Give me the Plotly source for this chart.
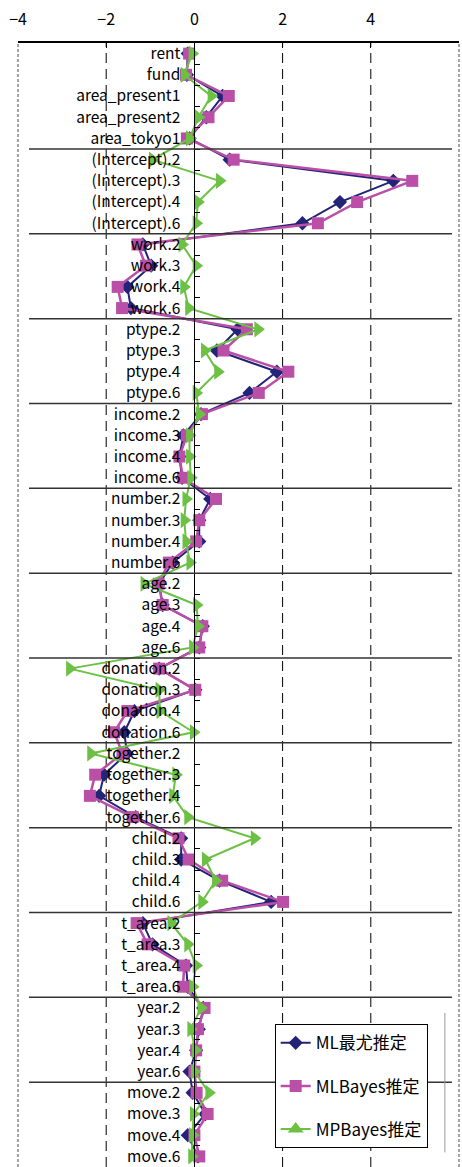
import plotly.graph_objects as go

# Coefficient names, top to bottom
categories = [
    "rent", "fund", "area_present1", "area_present2", "area_tokyo1",
    "(Intercept).2", "(Intercept).3", "(Intercept).4", "(Intercept).6",
    "work.2", "work.3", "work.4", "work.6",
    "ptype.2", "ptype.3", "ptype.4", "ptype.6",
    "income.2", "income.3", "income.4", "income.6",
    "number.2", "number.3", "number.4", "number.6",
    "age.2", "age.3", "age.4", "age.6",
    "donation.2", "donation.3", "donation.4", "donation.6",
    "together.2", "together.3", "together.4", "together.6",
    "child.2", "child.3", "child.4", "child.6",
    "t_area.2", "t_area.3", "t_area.4", "t_area.6",
    "year.2", "year.3", "year.4", "year.6",
    "move.2", "move.3", "move.4", "move.6",
]

# Number of coefficients in each block (separated by horizontal rules)
group_sizes = [5, 4, 4, 4, 4, 4, 4, 4, 4, 4, 4, 4, 4]

ml_est = [
    -0.15, -0.17, 0.64, 0.27, -0.11,
    0.80, 4.51, 3.30, 2.45,
    -1.17, -0.98, -1.52, -1.44,
    0.98, 0.51, 1.87, 1.25,
    0.15, -0.25, -0.34, -0.28,
    0.36, 0.11, 0.11, -0.49,
    -0.80, -0.72, 0.19, 0.11,
    -0.80, 0.02, -1.36, -1.59,
    -1.53, -2.05, -2.16, -1.33,
    -0.30, -0.30, 0.57, 1.74,
    -1.17, -0.95, -0.19, -0.15,
    0.20, 0.10, 0.04, -0.11,
    -0.04, 0.25, -0.15, 0.08,
]

mlbayes_est = [
    -0.12, -0.19, 0.78, 0.32, -0.17,
    0.89, 4.94, 3.69, 2.80,
    -1.29, -1.10, -1.74, -1.64,
    1.19, 0.66, 2.13, 1.46,
    0.17, -0.17, -0.34, -0.26,
    0.49, 0.11, 0.04, -0.58,
    -0.81, -0.72, 0.18, 0.11,
    -0.80, 0.02, -1.52, -1.82,
    -1.63, -2.25, -2.37, -1.40,
    -0.36, -0.13, 0.63, 2.01,
    -1.31, -1.06, -0.23, -0.26,
    0.23, 0.08, 0.04, 0.00,
    0.05, 0.30, 0.00, 0.11,
]

mpbayes_est = [
    -0.05, -0.23, 0.38, 0.09, -0.11,
    -0.95, 0.57, 0.08, 0.04,
    -0.28, 0.04, -0.24, -0.13,
    1.44, 0.23, 0.53, 0.04,
    0.11, -0.11, -0.11, -0.08,
    -0.19, -0.23, -0.19, -0.10,
    -1.14, 0.05, 0.08, -0.04,
    -2.83, -0.80, -0.78, -0.02,
    -2.35, -0.42, -0.49, -0.15,
    1.36, 0.25, 0.48, 0.17,
    -0.53, -0.15, 0.04, -0.04,
    0.15, -0.08, 0.02, 0.00,
    0.33, -0.02, -0.04, -0.06,
]

x_ticks = [-4, -2, 0, 2, 4, 6]
dashed_grid = [-2, 2, 4]

NAVY = "#232378"
MAGENTA = "#BA4FA8"
GREEN = "#6CC044"
FONT = "Noto Sans CJK JP"

fig = go.Figure()

fig.add_trace(go.Scatter(
    x=ml_est, y=categories, mode="lines+markers", name="ML最尤推定",
    line=dict(color=NAVY, width=2),
    marker=dict(symbol="diamond", size=11, color=NAVY),
    legendgroup="a",
))
fig.add_trace(go.Scatter(
    x=mlbayes_est, y=categories, mode="lines+markers", name="MLBayes推定",
    line=dict(color=MAGENTA, width=2.5),
    marker=dict(symbol="square", size=12, color=MAGENTA),
    legendgroup="b",
))
fig.add_trace(go.Scatter(
    x=mpbayes_est, y=categories, mode="lines+markers", name="MPBayes推定",
    line=dict(color=GREEN, width=2),
    marker=dict(symbol="triangle-right", size=14, color=GREEN),
    legendgroup="c", showlegend=False,
))
# legend key for the MP series uses an upward triangle
fig.add_trace(go.Scatter(
    x=[None], y=[None], mode="lines+markers", name="MPBayes推定",
    line=dict(color=GREEN, width=2),
    marker=dict(symbol="triangle-up", size=14, color=GREEN),
    legendgroup="c",
))

shapes = []
# vertical dashed guides
for gx in dashed_grid:
    shapes.append(dict(type="line", xref="x", yref="paper", x0=gx, x1=gx, y0=0, y1=1,
                       line=dict(color="black", width=1, dash="10px,6px"), layer="below"))
# left / right frame
for px in (0, 1):
    shapes.append(dict(type="line", xref="paper", yref="paper", x0=px, x1=px, y0=0, y1=1,
                       line=dict(color="#888888", width=1.5, dash="3px,2px")))
# block separators
pos = -0.5
for n in group_sizes[:-1]:
    pos += n
    shapes.append(dict(type="line", xref="x", yref="y", x0=-3.75, x1=5.84, y0=pos, y1=pos,
                       line=dict(color="#333333", width=1.5)))
# thin rule beside the legend box
shapes.append(dict(type="line", xref="paper", yref="paper", x0=0.968, x1=0.968,
                   y0=0.013, y1=0.137, line=dict(color="#999999", width=1)))

fig.update_layout(
    width=462, height=1167,
    margin=dict(l=18, r=3, t=43, b=0),
    paper_bgcolor="white", plot_bgcolor="white",
    font=dict(family=FONT, color="black", size=14),
    shapes=shapes,
    legend=dict(
        x=0.582, y=0.127, xanchor="left", yanchor="top",
        bgcolor="white", bordercolor="black", borderwidth=1,
        font=dict(size=17, family=FONT), tracegroupgap=18,
        itemwidth=30,
    ),
)

fig.update_xaxes(
    range=[-4, 6], side="top", tickvals=x_ticks,
    ticktext=[f"{v}".replace("-", "\u2212") for v in x_ticks],
    showgrid=False, zeroline=False,
    showline=True, linecolor="black", linewidth=1.5,
    ticks="inside", ticklen=5, tickcolor="black",
    tickfont=dict(size=16, family=FONT), ticklabelstandoff=10,
)

fig.update_yaxes(
    type="category", categoryorder="array", categoryarray=categories,
    range=[len(categories) - 0.5, -0.5],
    anchor="free", position=0.4,
    showgrid=False, zeroline=False,
    showline=True, linecolor="black", linewidth=1,
    ticks="inside", tickson="boundaries", ticklen=5, tickcolor="black",
    tickfont=dict(size=15.5, family=FONT), ticklabelstandoff=11,
)

fig.write_html("out.html")
